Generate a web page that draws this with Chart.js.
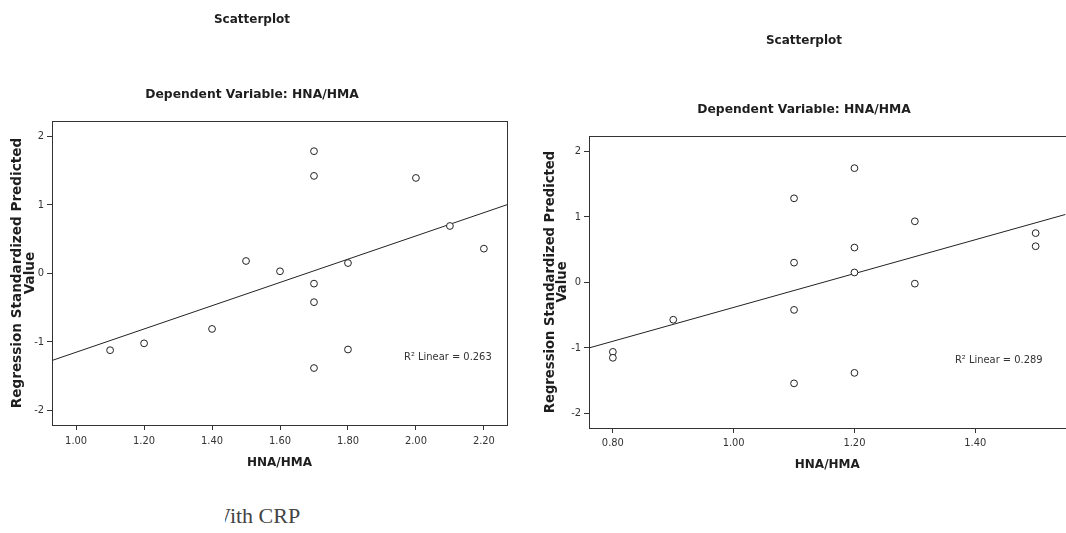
<!DOCTYPE html>
<html>
<head>
<meta charset="utf-8">
<script src="https://cdn.jsdelivr.net/npm/chart.js@4.4.0/dist/chart.umd.min.js"></script>
<style>
  html, body { margin: 0; padding: 0; background: #fff; overflow: hidden; }
  #page { position: relative; width: 1066px; height: 533px; overflow: hidden; }
  #c1 { position: absolute; left: 0; top: 0; }
  #c2 { position: absolute; left: 530px; top: 0; }
  #caption { position: absolute; left: 210px; top: 503px; font: 22px "Liberation Serif", "DejaVu Serif", serif;
             color: #444; white-space: nowrap; clip-path: inset(0 0 0 15px); }
</style>
</head>
<body>
<div id="page">
  <canvas id="c1" width="530" height="490"></canvas>
  <canvas id="c2" width="540" height="490"></canvas>
  <div id="caption">With CRP</div>
</div>
<script>
/* left panel */
const leftX = [1.7, 1.7, 2.0, 2.1, 2.2, 1.5, 1.6, 1.8, 1.7, 1.7, 1.4, 1.2, 1.1, 1.8, 1.7];
const leftY = [1.78, 1.42, 1.39, 0.69, 0.36, 0.18, 0.03, 0.15, -0.15, -0.42, -0.81, -1.02, -1.12, -1.11, -1.38];
const leftFitX = [0.929, 2.268];
const leftFitY = [-1.27, 1.0];
const leftXTicks = [1.0, 1.2, 1.4, 1.6, 1.8, 2.0, 2.2];

/* right panel */
const rightX = [1.2, 1.1, 1.3, 1.5, 1.2, 1.5, 1.1, 1.2, 1.3, 1.1, 0.9, 0.8, 0.8, 1.2, 1.1];
const rightY = [1.74, 1.28, 0.93, 0.75, 0.53, 0.55, 0.30, 0.15, -0.02, -0.42, -0.57, -1.06, -1.15, -1.38, -1.54];
const rightFitX = [0.7605, 1.5496];
const rightFitY = [-1.0, 1.035];
const rightXTicks = [0.8, 1.0, 1.2, 1.4];

const yTicks = [-2, -1, 0, 1, 2];
const r2Left = 'R² Linear = 0.263';
const r2Right = 'R² Linear = 0.289';

const BOLD = '"DejaVu Sans", Verdana, sans-serif';
const NARROW = '"Liberation Sans Narrow", "DejaVu Sans Condensed", sans-serif';

const pts = (xs, ys) => xs.map((x, i) => ({ x, y: ys[i] }));

// frame box, titles and R² note
const panelText = {
  id: 'panelText',
  beforeDatasetsDraw(chart) {
    const { ctx, chartArea: a } = chart;
    ctx.save();
    ctx.strokeStyle = '#333';
    ctx.lineWidth = 1;
    ctx.strokeRect(Math.round(a.left) + 0.5, Math.round(a.top) + 0.5,
                   Math.round(a.right - a.left), Math.round(a.bottom - a.top));
    ctx.restore();
  },
  afterDraw(chart, args, o) {
    const ctx = chart.ctx;
    ctx.save();
    ctx.fillStyle = '#1e1e1e';
    ctx.textAlign = 'center';
    ctx.textBaseline = 'middle';
    ctx.font = 'bold 12px ' + BOLD;
    ctx.fillText('Scatterplot', o.titleX, o.titleY);
    ctx.font = 'bold 12.3px ' + BOLD;
    ctx.fillText('Dependent Variable: HNA/HMA', o.titleX, o.subY);
    ctx.font = '11px ' + NARROW;
    ctx.fillStyle = '#333';
    ctx.fillText(o.r2, chart.scales.x.getPixelForValue(o.r2At[0]), chart.scales.y.getPixelForValue(o.r2At[1]));
    ctx.restore();
  }
};

function makePanel(id, cfg) {
  new Chart(document.getElementById(id), {
    type: 'scatter',
    data: {
      datasets: [
        {
          data: pts(cfg.xs, cfg.ys),
          pointRadius: 3.4, pointHoverRadius: 3.4,
          pointBackgroundColor: '#fff', pointBorderColor: '#222', pointBorderWidth: 1
        },
        {
          data: pts(cfg.fitX, cfg.fitY),
          showLine: true, pointRadius: 0,
          borderColor: '#222', borderWidth: 1
        }
      ]
    },
    options: {
      responsive: false, animation: false, devicePixelRatio: 1,
      layout: { padding: cfg.pad },
      plugins: {
        legend: { display: false }, tooltip: { enabled: false },
        panelText: cfg.text
      },
      scales: {
        x: {
          min: cfg.xMin, max: cfg.xMax,
          afterBuildTicks: s => { s.ticks = cfg.xTicks.map(v => ({ value: v })); },
          afterFit: s => { s.height = cfg.xH; },
          grid: { drawOnChartArea: false, tickLength: 5, color: '#333' },
          border: { display: false },
          ticks: { font: { family: NARROW, size: 11 }, color: '#333', padding: cfg.xPad, maxRotation: 0,
                   callback: v => Number(v).toFixed(2) },
          title: { display: true, text: 'HNA/HMA', color: '#1e1e1e',
                   font: { family: BOLD, size: 12, weight: 'bold', lineHeight: 1.25 },
                   padding: { top: 0, bottom: cfg.xTitlePad } }
        },
        y: {
          min: cfg.yMin, max: cfg.yMax,
          afterBuildTicks: s => { s.ticks = yTicks.map(v => ({ value: v })); },
          afterFit: s => { s.width = cfg.yW; },
          grid: { drawOnChartArea: false, tickLength: 5, color: '#333' },
          border: { display: false },
          ticks: { font: { family: NARROW, size: 11 }, color: '#333', padding: 3,
                   callback: v => String(v) },
          title: { display: true, text: ['Regression Standardized Predicted', 'Value'], color: '#1e1e1e',
                   font: { family: BOLD, size: cfg.yFs, weight: 'bold', lineHeight: cfg.yLh },
                   padding: { top: cfg.yTitlePad, bottom: 0 } }
        }
      }
    },
    plugins: [panelText]
  });
}

makePanel('c1', {
  xs: leftX, ys: leftY, fitX: leftFitX, fitY: leftFitY, xTicks: leftXTicks,
  xMin: 0.929, xMax: 2.268, yMin: -2.21, yMax: 2.22,
  pad: { top: 121, right: 23, bottom: 0, left: 0 },
  xH: 65, yW: 52, xPad: 5, xTitlePad: 19.5, yFs: 13.6, yLh: 0.96, yTitlePad: 10.5,
  text: { titleX: 252, titleY: 20, subY: 95, r2: r2Left, r2At: [2.094, -1.22] }
});

makePanel('c2', {
  xs: rightX, ys: rightY, fitX: rightFitX, fitY: rightFitY, xTicks: rightXTicks,
  xMin: 0.7605, xMax: 1.5496, yMin: -2.22, yMax: 2.23,
  pad: { top: 136, right: 2, bottom: 0, left: 0 },
  xH: 62, yW: 59, xPad: 4, xTitlePad: 17.5, yFs: 13.2, yLh: 0.91, yTitlePad: 15,
  text: { titleX: 274, titleY: 41, subY: 110, r2: r2Right, r2At: [1.439, -1.19] }
});
</script>
</body>
</html>
